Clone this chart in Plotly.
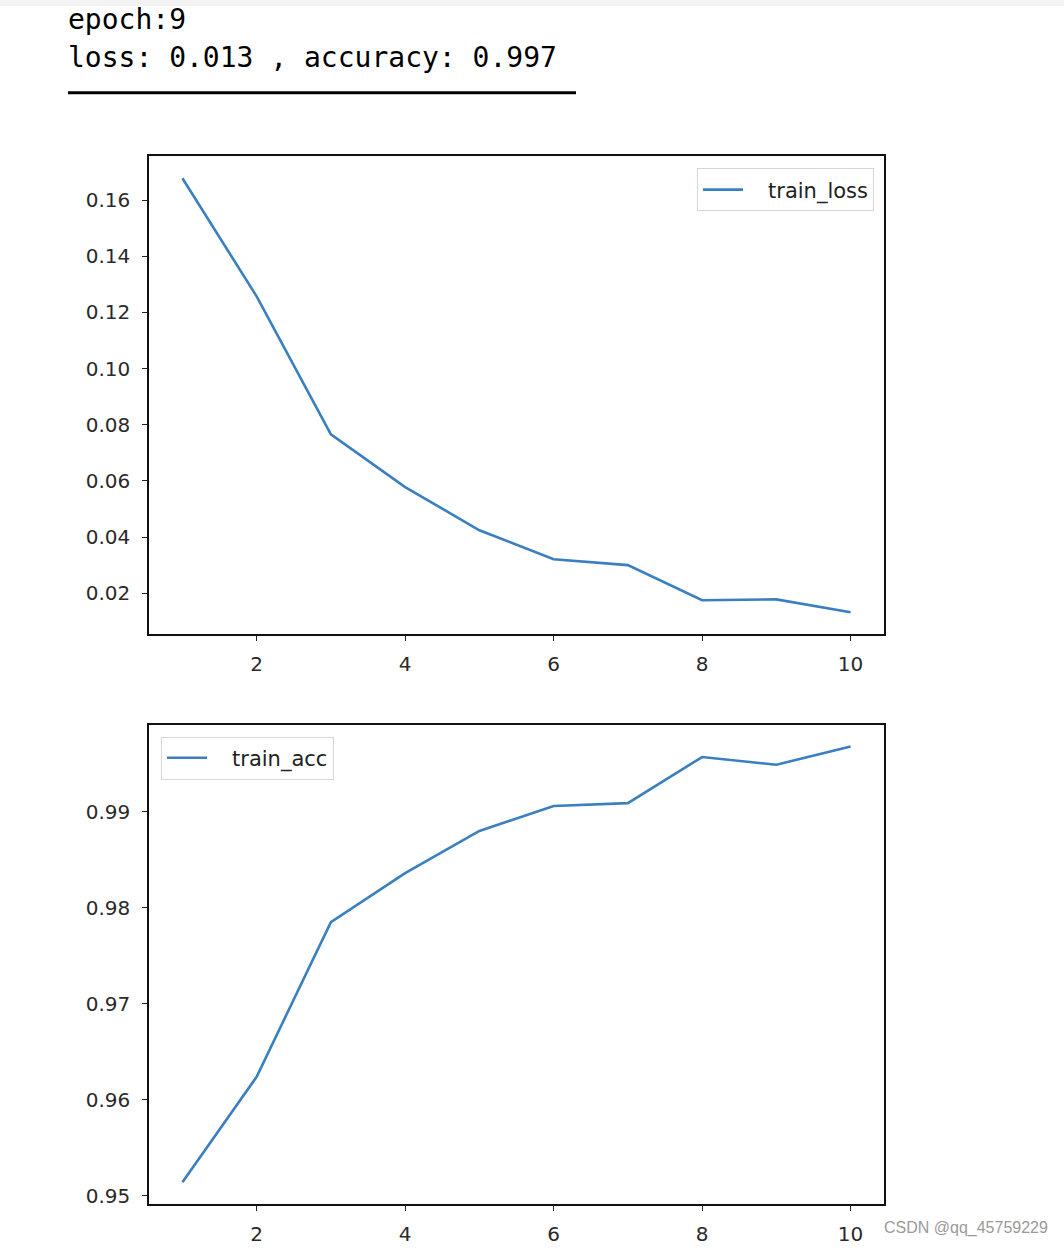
import plotly.graph_objects as go

# ---- data ----
epochs = [1, 2, 3, 4, 5, 6, 7, 8, 9, 10]
train_loss = [0.1678, 0.1257, 0.0766, 0.0578, 0.0424, 0.0321, 0.0300, 0.0175, 0.0178, 0.0132]
train_acc = [0.9514, 0.9624, 0.9785, 0.9836, 0.9880, 0.9906, 0.9909, 0.9957, 0.9949, 0.9968]
header_lines = ["epoch:9", "loss: 0.013 , accuracy: 0.997"]
watermark = "CSDN @qq_45759229"

W, H = 1064, 1250
LINE_COLOR = "#3a7fbf"
TICK_FONT = dict(family="DejaVu Sans", size=20, color="#2a2a2a")


def px_x(x):
    return x / W


def px_y(y):
    return 1 - y / H


def padded(vals, frac=0.05):
    lo, hi = min(vals), max(vals)
    p = (hi - lo) * frac
    return [lo - p, hi + p]


fig = go.Figure()
fig.add_trace(go.Scatter(x=epochs, y=train_loss, mode="lines", name="   train_loss",
                         line=dict(color=LINE_COLOR, width=2.6),
                         xaxis="x", yaxis="y", legend="legend"))
fig.add_trace(go.Scatter(x=epochs, y=train_acc, mode="lines", name="   train_acc",
                         line=dict(color=LINE_COLOR, width=2.6),
                         xaxis="x2", yaxis="y2", legend="legend2"))

axis_common = dict(showline=True, linecolor="#111111", linewidth=1.5, mirror=True,
                   ticks="outside", ticklen=5, tickwidth=1.3, tickcolor="#222222",
                   showgrid=False, zeroline=False, tickfont=TICK_FONT)

xdom = [px_x(149), px_x(884)]
xr = padded(epochs)

legend_common = dict(bgcolor="white", bordercolor="#d6d6d6", borderwidth=1,
                     font=dict(family="DejaVu Sans", size=21, color="#222222"),
                     itemwidth=40)

fig.update_layout(
    width=W, height=H,
    margin=dict(l=0, r=0, t=0, b=0),
    paper_bgcolor="white", plot_bgcolor="white",
    xaxis=dict(domain=xdom, range=xr, anchor="y", dtick=2, tick0=0,
               ticklabelstandoff=6, **axis_common),
    yaxis=dict(domain=[px_y(636), px_y(157)], range=padded(train_loss), anchor="x",
               dtick=0.02, tick0=0, tickformat=".2f", ticklabelstandoff=8, **axis_common),
    xaxis2=dict(domain=xdom, range=xr, anchor="y2", dtick=2, tick0=0,
                ticklabelstandoff=6, **axis_common),
    yaxis2=dict(domain=[px_y(1208), px_y(727)], range=padded(train_acc), anchor="x2",
                dtick=0.01, tick0=0, tickformat=".2f", ticklabelstandoff=8, **axis_common),
    legend=dict(x=px_x(874), y=px_y(169), xanchor="right", yanchor="top", **legend_common),
    legend2=dict(x=px_x(161), y=px_y(739), xanchor="left", yanchor="top", **legend_common),
    showlegend=True,
)

# header text
fig.add_annotation(x=px_x(66), y=px_y(20), xref="paper", yref="paper",
                   xanchor="left", yanchor="middle", showarrow=False,
                   text=header_lines[0],
                   font=dict(family="DejaVu Sans Mono", size=28, color="black"))
fig.add_annotation(x=px_x(66), y=px_y(58), xref="paper", yref="paper",
                   xanchor="left", yanchor="middle", showarrow=False,
                   text=header_lines[1],
                   font=dict(family="DejaVu Sans Mono", size=28, color="black"))
# underline rule
fig.add_shape(type="line", xref="paper", yref="paper",
              x0=px_x(68), x1=px_x(576), y0=px_y(93), y1=px_y(93),
              line=dict(color="black", width=3))
# faint top shadow
fig.add_shape(type="rect", xref="paper", yref="paper",
              x0=0, x1=1, y0=px_y(6), y1=1, line=dict(width=0),
              fillcolor="#f3f3f3", layer="below")

# watermark
fig.add_annotation(x=px_x(1050), y=px_y(1232), xref="paper", yref="paper",
                   xanchor="right", yanchor="middle", showarrow=False,
                   text=watermark,
                   font=dict(family="Liberation Sans", size=16, color="#9a9a9a"))

fig.write_html("out.html", config={"displayModeBar": False},
               post_script="document.body.style.margin='0';document.body.style.overflow='hidden';")
